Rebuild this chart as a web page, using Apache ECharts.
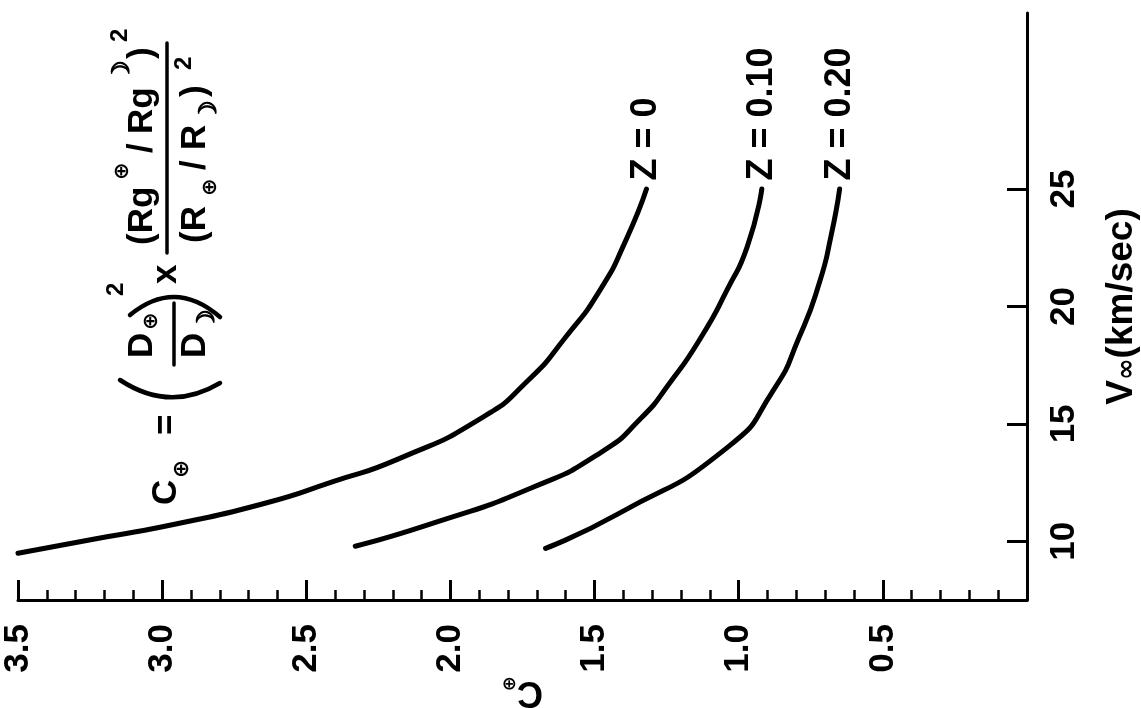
<!DOCTYPE html>
<html>
<head>
<meta charset="utf-8">
<script src="https://cdn.jsdelivr.net/npm/echarts@6/dist/echarts.min.js"></script>
<style>
html,body{margin:0;padding:0;background:#fff;}
#chart{width:1141px;height:708px;}
</style>
</head>
<body>
<div id="chart"></div>
<script>
// ---- data (C_earth on horizontal axis, V_inf on vertical axis; chart drawn rotated) ----
const cTicks = [0.5, 1.0, 1.5, 2.0, 2.5, 3.0, 3.5];
const vTicks = [10, 15, 20, 25];
const seriesNames = ['Z = 0', 'Z = 0.10', 'Z = 0.20'];

const vZ0  = [9.49, 10.13, 10.77, 11.63, 12.53, 13.51, 15.27, 16.86, 18.70, 20.72, 22.86, 25.0];
const cZ0  = [3.50, 3.22, 2.94, 2.64, 2.41, 2.18, 1.89, 1.73, 1.60, 1.48, 1.39, 1.32];

const vZ10 = [9.79, 10.77, 12.27, 13.77, 15.23, 16.73, 18.70, 20.72, 22.56, 25.0];
const cZ10 = [2.33, 2.06, 1.72, 1.48, 1.34, 1.24, 1.13, 1.04, 0.97, 0.92];

const vZ20 = [9.70, 11.16, 13.99, 16.43, 18.70, 21.02, 22.99, 25.0];
const cZ20 = [1.67, 1.42, 1.04, 0.88, 0.79, 0.72, 0.68, 0.65];

const FONT = "'Liberation Sans', Arial, sans-serif";
const SYM = "'DejaVu Sans', sans-serif";

function buildSeries(name, cs, vs) {
  const data = cs.map((c, i) => {
    const item = { value: [c, vs[i]] };
    if (i === cs.length - 1) {
      item.label = {
        show: true, position: 'top', distance: 8, rotate: 90,
        align: 'left', verticalAlign: 'middle',
        formatter: name, color: '#000', fontSize: 36, fontWeight: 'bold', fontFamily: FONT
      };
    }
    return item;
  });
  return {
    type: 'line', name: name, data: data, smooth: 0.6,
    symbol: 'circle', symbolSize: 1, showSymbol: true,
    itemStyle: { color: '#000' },
    lineStyle: { color: '#000', width: 5, cap: 'round', join: 'round' },
    label: { show: false },
    z: 3
  };
}

// equation drawn in a rotated group (local coords: x = reading direction, y = downward in text frame)
function tx(text, u, w, size, family, extra) {
  const st = {
    text: text, fill: '#000',
    font: 'bold ' + size + 'px ' + (family || FONT),
    textAlign: 'left', textVerticalAlign: 'middle', align: 'left', verticalAlign: 'middle'
  };
  if (extra) Object.assign(st, extra);
  return { type: 'text', x: u, y: w, silent: true, style: st };
}
const THICK = { stroke: '#000', lineWidth: 1.2 };
function bez(p0, c, p1, lw) {
  return {
    type: 'bezierCurve', silent: true,
    shape: { x1: p0[0], y1: p0[1], cpx1: c[0], cpy1: c[1], x2: p1[0], y2: p1[1] },
    style: { stroke: '#000', lineWidth: lw, fill: null, lineCap: 'round' }
  };
}
function ln(x1, y1, x2, y2, lw) {
  return { type: 'line', silent: true, shape: { x1, y1, x2, y2 }, style: { stroke: '#000', lineWidth: lw, lineCap: 'round' } };
}

const eqChildren = [
  tx('C', 5, 54, 35),
  tx('⊕', 32, 70, 22, SYM),
  tx('=', 75, 55, 35),
  bez([130, 8], [97, 58], [127, 108], 4.5),
  tx('D', 152, 30, 35),
  tx('⊕', 180, 40, 21, SYM),
  ln(145, 62, 207, 62, 3.5),
  tx('D', 152, 83, 35),
  tx('☽', 179, 96, 24, SYM, THICK),
  bez([195, 18], [232, 63], [193, 108], 4.5),
  tx('2', 214, 4, 24),
  tx('x', 226, 54, 35),
  ln(257, 55, 467, 55, 3.5),
  tx('(Rg', 265, 30, 35),
  tx('⊕', 330, 11, 21, SYM),
  tx('/', 357, 30, 35),
  tx('Rg', 376, 30, 35),
  tx('☽', 428, 11, 24, SYM, THICK),
  tx(')', 451, 30, 35),
  tx('2', 468, 8, 24),
  tx('(R', 267, 83, 35),
  tx('⊕', 314, 99, 21, SYM),
  tx('/', 340, 83, 35),
  tx('R', 360, 83, 35),
  tx('☽', 388, 98, 24, SYM, THICK),
  tx(')', 413, 83, 35),
  tx('2', 440, 72, 24)
];

const chart = echarts.init(document.getElementById('chart'), null, { renderer: 'canvas' });
const labelStyle = { color: '#000', fontSize: 35, fontWeight: 'bold', fontFamily: FONT };

chart.setOption({
  animation: false,
  backgroundColor: '#fff',
  grid: { left: 18, right: 114, top: 13, bottom: 108, containLabel: false, outerBoundsMode: 'none' },
  xAxis: {
    type: 'value', min: 0, max: 3.5, interval: 0.5, inverse: true, position: 'bottom',
    axisLine: { show: true, lineStyle: { color: '#000', width: 3 } },
    axisTick: { show: true, inside: true, length: 20, lineStyle: { color: '#000', width: 3 } },
    minorTick: { show: true, splitNumber: 5, length: 10, lineStyle: { color: '#000', width: 2.5 } },
    splitLine: { show: false },
    axisLabel: Object.assign({
      rotate: 90, margin: 24, showMinLabel: false,
      formatter: function (v) { return cTicks.indexOf(v) >= 0 ? v.toFixed(1) : ''; }
    }, labelStyle),
    name: '{c|C}{s|⊕}', nameLocation: 'middle', nameRotate: 180, nameGap: 74,
    nameMoveOverlap: false,
    nameTextStyle: {
      rich: {
        c: { fontSize: 36, fontWeight: 'bold', fontFamily: FONT, color: '#000' },
        s: { fontSize: 18, fontWeight: 'bold', fontFamily: SYM, color: '#000', verticalAlign: 'bottom' }
      }
    }
  },
  yAxis: {
    type: 'value', min: 7.5, max: 32.5, position: 'right',
    axisLine: { show: true, lineStyle: { color: '#000', width: 3 } },
    axisTick: { show: true, inside: true, length: 20, customValues: vTicks, lineStyle: { color: '#000', width: 3 } },
    splitLine: { show: false },
    axisLabel: Object.assign({ rotate: 90, margin: 20, customValues: vTicks }, labelStyle),
    name: '{v|V}{s|∞}{v|(km/sec)}', nameLocation: 'middle', nameRotate: 90, nameGap: 76,
    nameMoveOverlap: false,
    nameTextStyle: {
      rich: {
        v: { fontSize: 37, fontWeight: 'bold', fontFamily: FONT, color: '#000' },
        s: { fontSize: 26, fontWeight: 'bold', fontFamily: SYM, color: '#000', verticalAlign: 'bottom' }
      }
    }
  },
  series: [
    buildSeries(seriesNames[0], cZ0, vZ0),
    buildSeries(seriesNames[1], cZ10, vZ10),
    buildSeries(seriesNames[2], cZ20, vZ20)
  ],
  graphic: [{
    type: 'group', x: 112, y: 510, rotation: Math.PI / 2, silent: true,
    children: eqChildren
  }]
});
</script>
</body>
</html>
